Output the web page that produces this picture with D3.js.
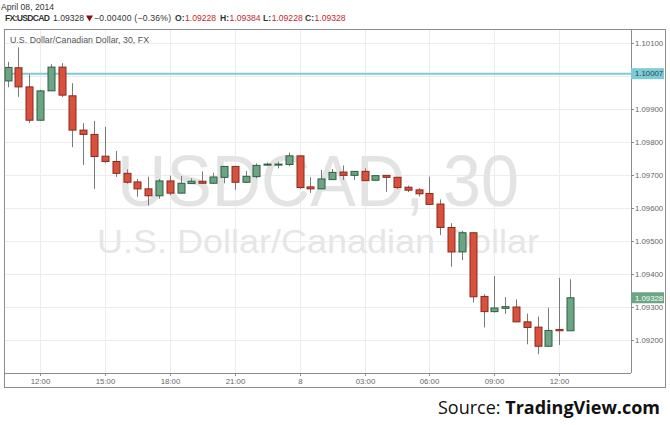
<!DOCTYPE html>
<html><head><meta charset="utf-8">
<script src="https://cdn.jsdelivr.net/npm/d3@7"></script>
<style>
html,body{margin:0;padding:0;background:#fff;}
svg{display:block;font-family:"Liberation Sans",Arial,sans-serif;}
</style></head>
<body><svg id="c" width="670" height="425"></svg>
<script>
// ---- data ----
const times = ["2014-04-07 10:30","2014-04-07 11:00","2014-04-07 11:30","2014-04-07 12:00","2014-04-07 12:30","2014-04-07 13:00","2014-04-07 13:30","2014-04-07 14:00","2014-04-07 14:30","2014-04-07 15:00","2014-04-07 15:30","2014-04-07 16:00","2014-04-07 16:30","2014-04-07 17:00","2014-04-07 17:30","2014-04-07 18:00","2014-04-07 18:30","2014-04-07 19:00","2014-04-07 19:30","2014-04-07 20:00","2014-04-07 20:30","2014-04-07 21:00","2014-04-07 21:30","2014-04-07 22:00","2014-04-07 22:30","2014-04-07 23:00","2014-04-07 23:30","2014-04-08 00:00","2014-04-08 00:30","2014-04-08 01:00","2014-04-08 01:30","2014-04-08 02:00","2014-04-08 02:30","2014-04-08 03:00","2014-04-08 03:30","2014-04-08 04:00","2014-04-08 04:30","2014-04-08 05:00","2014-04-08 05:30","2014-04-08 06:00","2014-04-08 06:30","2014-04-08 07:00","2014-04-08 07:30","2014-04-08 08:00","2014-04-08 08:30","2014-04-08 09:00","2014-04-08 09:30","2014-04-08 10:00","2014-04-08 10:30","2014-04-08 11:00","2014-04-08 11:30","2014-04-08 12:00","2014-04-08 12:30"];
const opens  = [1.09985,1.10025,1.09967,1.09866,1.09955,1.10027,1.09940,1.09836,1.09823,1.09757,1.09741,1.09705,1.09679,1.09658,1.09637,1.09682,1.09645,1.09674,1.09681,1.09675,1.09693,1.09726,1.09678,1.09695,1.09730,1.09732,1.09732,1.09758,1.09664,1.09658,1.09686,1.09709,1.09699,1.09711,1.09684,1.09699,1.09693,1.09663,1.09655,1.09644,1.09612,1.09541,1.09467,1.09525,1.09332,1.09286,1.09296,1.09300,1.09255,1.09239,1.09181,1.09232,1.09228];
const highs  = [1.10043,1.10087,1.10005,1.09958,1.10036,1.10039,1.09978,1.09857,1.09864,1.09846,1.09773,1.09717,1.09688,1.09695,1.09688,1.09698,1.09697,1.09690,1.09711,1.09707,1.09727,1.09727,1.09712,1.09735,1.09738,1.09740,1.09768,1.09760,1.09693,1.09715,1.09718,1.09729,1.09712,1.09720,1.09699,1.09700,1.09694,1.09668,1.09660,1.09695,1.09626,1.09554,1.09531,1.09526,1.09339,1.09394,1.09330,1.09323,1.09280,1.09271,1.09298,1.09388,1.09384];
const lows   = [1.09966,1.09937,1.09858,1.09864,1.09955,1.09936,1.09784,1.09730,1.09658,1.09736,1.09694,1.09674,1.09634,1.09607,1.09628,1.09639,1.09644,1.09674,1.09674,1.09673,1.09675,1.09655,1.09677,1.09690,1.09728,1.09720,1.09727,1.09658,1.09646,1.09657,1.09685,1.09685,1.09685,1.09682,1.09683,1.09649,1.09658,1.09648,1.09635,1.09610,1.09518,1.09422,1.09442,1.09314,1.09238,1.09283,1.09279,1.09254,1.09187,1.09157,1.09180,1.09185,1.09228];
const closes = [1.10026,1.09967,1.09866,1.09955,1.10027,1.09942,1.09836,1.09823,1.09756,1.09741,1.09705,1.09678,1.09658,1.09637,1.09682,1.09645,1.09675,1.09681,1.09675,1.09694,1.09726,1.09678,1.09696,1.09729,1.09733,1.09733,1.09758,1.09662,1.09658,1.09688,1.09708,1.09699,1.09711,1.09683,1.09698,1.09693,1.09662,1.09654,1.09643,1.09611,1.09541,1.09467,1.09525,1.09331,1.09286,1.09297,1.09301,1.09255,1.09238,1.09181,1.09229,1.09228,1.09328];
const priceTicks = [1.101,1.100,1.099,1.098,1.097,1.096,1.095,1.094,1.093,1.092];
const timeTicks = ["2014-04-07 12:00","2014-04-07 15:00","2014-04-07 18:00","2014-04-07 21:00","2014-04-08 00:00","2014-04-08 03:00","2014-04-08 06:00","2014-04-08 09:00","2014-04-08 12:00"];
const timeTickLabels = ["12:00","15:00","18:00","21:00","8","03:00","06:00","09:00","12:00"];
const hLineValue = 1.10007;
const lastPrice = 1.09328;

// ---- layout ----
const svg = d3.select("#c");
const L = 4, T = 29, R = 631, B = 373, OR = 665, OB = 387;
const parse = d3.timeParse("%Y-%m-%d %H:%M");
const x = d3.scaleTime()
  .domain([parse("2014-04-07 12:00"), parse("2014-04-08 12:00")])
  .range([40, 559.3]);
const y = d3.scaleLinear().domain([1.092, 1.101]).range([340, 43]);
const bars = times.map((t,i)=>({t:parse(t),o:opens[i],h:highs[i],l:lows[i],c:closes[i]}));

// header
svg.append("text").attr("x",1).attr("y",10).attr("font-size",8.6).attr("fill","#333").text("April 08, 2014");
const hdr = svg.append("g").attr("font-size",8.6).attr("fill","#333");
hdr.append("text").attr("x",5).attr("y",21).attr("font-weight","bold").attr("textLength",45).text("FX:USDCAD");
hdr.append("text").attr("x",53).attr("y",21).text("1.09328");
hdr.append("path").attr("d","M86,15.5 L93,15.5 L89.5,21.5 Z").attr("fill","#8b1010");
hdr.append("text").attr("x",94).attr("y",21).attr("textLength",77).text("\u22120.00400 (\u22120.36%)");
[["O:",175,"1.09228"],["H:",220,"1.09384"],["L:",263,"1.09228"],["C:",305,"1.09328"]].forEach(d=>{
  const t = hdr.append("text").attr("x",d[1]).attr("y",21);
  t.append("tspan").attr("font-weight","bold").text(d[0]);
  t.append("tspan").attr("dx",0.5).attr("fill","#c0282d").text(d[2]);
});

// grid
const grid = svg.append("g").attr("stroke","#ececec").attr("stroke-width",1);
priceTicks.forEach(p=>grid.append("line").attr("x1",L).attr("x2",R).attr("y1",Math.round(y(p))+0.5).attr("y2",Math.round(y(p))+0.5));
timeTicks.forEach(t=>grid.append("line").attr("x1",Math.round(x(parse(t)))+0.5).attr("x2",Math.round(x(parse(t)))+0.5).attr("y1",T).attr("y2",B));

// watermark
svg.append("text").attr("x",117).attr("y",206).attr("font-size",72)
  .attr("fill","#e3e3e3").attr("textLength",402).attr("lengthAdjust","spacingAndGlyphs").text("USDCAD, 30");
svg.append("text").attr("x",97).attr("y",253).attr("font-size",34)
  .attr("fill","#e6e6e6").attr("textLength",442).attr("lengthAdjust","spacingAndGlyphs").text("U.S. Dollar/Canadian Dollar");

// title
svg.append("text").attr("x",10).attr("y",43).attr("font-size",8.8).attr("fill","#555").attr("textLength",139)
  .text("U.S. Dollar/Canadian Dollar, 30, FX");

// horizontal line
svg.append("line").attr("x1",L).attr("x2",R).attr("y1",y(hLineValue)).attr("y2",y(hLineValue))
  .attr("stroke","#7fcbd5").attr("stroke-width",2);

// candles
const cw = 7;
const cg = svg.append("g");
bars.forEach(b=>{
  const cx = Math.round(x(b.t))+0.5;
  const up = b.c >= b.o;
  cg.append("line").attr("x1",cx).attr("x2",cx).attr("y1",y(b.h)).attr("y2",y(b.l)).attr("stroke","#7a7a7a").attr("stroke-width",1);
  const top = y(Math.max(b.o,b.c)), bot = y(Math.min(b.o,b.c));
  cg.append("rect").attr("x",cx-cw/2).attr("y",top).attr("width",cw).attr("height",Math.max(bot-top,1))
    .attr("fill",up?"#6ba583":"#d9513c").attr("stroke",up?"#2f5f42":"#8a2a1e").attr("stroke-width",1);
});

// frame
const fr = svg.append("g").attr("stroke","#8c8c8c").attr("fill","none");
fr.append("rect").attr("x",L+0.5).attr("y",T+0.5).attr("width",OR-L).attr("height",OB-T);
fr.append("line").attr("x1",L).attr("x2",R).attr("y1",B+0.5).attr("y2",B+0.5);
fr.append("line").attr("x1",R+0.5).attr("x2",R+0.5).attr("y1",T).attr("y2",B);

// right axis (labels hidden where the price boxes sit on them)
const ax = svg.append("g").attr("font-size",7.8).attr("fill","#666");
priceTicks.forEach(p=>{
  ax.append("line").attr("x1",R).attr("x2",R+3).attr("y1",Math.round(y(p))+0.5).attr("y2",Math.round(y(p))+0.5).attr("stroke","#8c8c8c");
  if (Math.abs(y(p)-y(hLineValue)) < 9) return;
  const ty = Math.abs(y(p)-y(lastPrice)) < 11 ? y(lastPrice)+12.5 : y(p)+2.8;
  ax.append("text").attr("x",R+4).attr("y",ty).text(d3.format(".5f")(p));
});
// bottom axis
timeTicks.forEach((t,i)=>{
  const tx = Math.round(x(parse(t)))+0.5;
  ax.append("line").attr("x1",tx).attr("x2",tx).attr("y1",B).attr("y2",B+3).attr("stroke","#8c8c8c");
  ax.append("text").attr("x",tx).attr("y",384).attr("text-anchor","middle").text(timeTickLabels[i]);
});

// price boxes
function box(v,bg,fg){
  const cy = y(v);
  svg.append("rect").attr("x",R).attr("y",cy-5.5).attr("width",OR-R-1).attr("height",11).attr("fill",bg);
  svg.append("text").attr("x",R+4).attr("y",cy+2.8).attr("font-size",7.8).attr("fill",fg).text(d3.format(".5f")(v));
}
box(hLineValue,"#7fcbd5","#1d4a50");
box(lastPrice,"#6ba583","#ffffff");

// source
const src = svg.append("text").attr("x",660).attr("y",414).attr("text-anchor","end").attr("font-size",18).attr("fill","#111")
  .attr("font-family","'Open Sans',sans-serif");
src.append("tspan").text("Source: ");
src.append("tspan").attr("font-weight","bold").text("TradingView.com");
</script></body></html>
